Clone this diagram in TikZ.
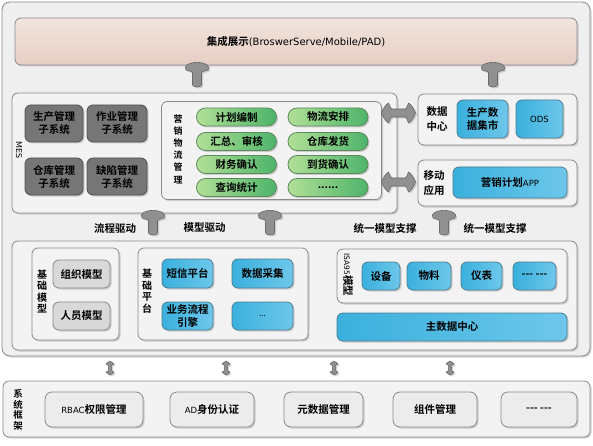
\documentclass[tikz,border=0pt]{standalone}
\usepackage{fontspec}
\setmainfont{Noto Sans CJK SC}[BoldFont={Noto Sans CJK SC Bold}]
\newfontfamily\lat{DejaVu Sans}
\usetikzlibrary{shadows}
\definecolor{outerfill}{HTML}{EFEFEF}
\definecolor{framefill}{HTML}{F3F3F3}
\definecolor{frameline}{HTML}{8A8A8A}
\definecolor{pinktop}{HTML}{F2E4DD}
\definecolor{pinkbot}{HTML}{E6CEC3}
\definecolor{darkfill}{HTML}{767676}
\definecolor{darkline}{HTML}{505050}
\definecolor{greenl}{HTML}{B2DF97}
\definecolor{greenr}{HTML}{4DB46A}
\definecolor{greenline}{HTML}{5C8A5C}
\definecolor{bluel}{HTML}{3AB0DD}
\definecolor{bluer}{HTML}{6EC7EA}
\definecolor{blueline}{HTML}{4C7D92}
\definecolor{grayfill}{HTML}{D9D9D9}
\definecolor{lightfill}{HTML}{ECECEC}
\definecolor{arrowfill}{HTML}{909090}
\definecolor{arrowline}{HTML}{6A6A6A}

\begin{document}
\begin{tikzpicture}[x=1pt,y=-1pt,
  every node/.style={font=\fontsize{10.5}{13}\selectfont\bfseries, inner sep=0pt, text=black},
  sz/.style 2 args={minimum width=#1pt, minimum height=#2pt},
  shade/.style={drop shadow={shadow xshift=1.5pt, shadow yshift=-1.5pt, fill=black!35, opacity=.5}},
  outer/.style={draw=frameline, fill=outerfill, rounded corners=8pt, line width=.8pt, shade},
  frame/.style={draw=frameline, fill=framefill, rounded corners=6pt, line width=.8pt, shade},
  pinkbox/.style={draw=frameline, top color=pinktop, bottom color=pinkbot, rounded corners=6pt, line width=.8pt, shade},
  darkbox/.style={draw=darkline, fill=darkfill, rounded corners=6pt, line width=.8pt, align=center, text=black, shade},
  pill/.style={draw=greenline, left color=greenl, right color=greenr, rounded corners=9pt, line width=.8pt, minimum width=80pt, minimum height=18pt, shade},
  bluebox/.style={draw=blueline, left color=bluel, right color=bluer, rounded corners=6pt, line width=.8pt, align=center, shade},
  graybox/.style={draw=frameline, fill=grayfill, rounded corners=6pt, line width=.8pt, shade},
  basebox/.style={draw=frameline, fill=lightfill, rounded corners=7pt, line width=.8pt, shade},
  vlabel/.style={align=center, font=\fontsize{10}{11.5}\selectfont\bfseries},
  label2/.style={align=center, font=\fontsize{10.5}{15}\selectfont\bfseries},
  arrowbody/.style={fill=arrowfill, draw=arrowline, line width=.6pt, shade},
  uparrow/.pic={
    \path[arrowbody] (-4.5,11) -- (-4.5,-1) .. controls (-4.5,-3) and (-9,-3) .. (-11,-4)
      .. controls (-12,-6) and (-12,-8) .. (-10,-9) .. controls (-5,-12.5) and (5,-12.5) .. (10,-9)
      .. controls (12,-8) and (12,-6) .. (11,-4) .. controls (9,-3) and (4.5,-3) .. (4.5,-1)
      -- (4.5,11) .. controls (4.5,13.5) and (-4.5,13.5) .. (-4.5,11) -- cycle;
  },
  dblarrow/.pic={
    \path[arrowbody] (-17,0) .. controls (-15,-5) and (-13,-8) .. (-10,-10)
      .. controls (-9,-7) and (-8,-5) .. (-7,-4) -- (7,-4) .. controls (8,-5) and (9,-7) .. (10,-10)
      .. controls (13,-8) and (15,-5) .. (17,0) .. controls (15,5) and (13,8) .. (10,10)
      .. controls (9,7) and (8,5) .. (7,4) -- (-7,4) .. controls (-8,5) and (-9,7) .. (-10,10)
      .. controls (-13,8) and (-15,5) .. (-17,0) -- cycle;
  }]
\useasboundingbox (0,0) rectangle (593,446);

\node[outer, sz={588}{354}] (sys) at (296,179) {};
\node[pinkbox, sz={562}{47}] (show) at (296,41.5) {集成展示{\lat\mdseries\fontsize{10}{12}\selectfont(BroswerServe/Mobile/PAD)}};

\node[frame, sz={385}{120}] (mes) at (204.5,153) {};
\node[rotate=-90, font=\lat\fontsize{8}{10}\selectfont] (meslbl) at (19,150) {MES};
\node[darkbox, sz={58}{37}] (scgl) at (54,123.5) {\color{black}生产管理\\\color{black}子系统};
\node[darkbox, sz={60}{37}] (zygl) at (117,123.5) {\color{black}作业管理\\\color{black}子系统};
\node[darkbox, sz={58}{37}] (ckgl) at (54,176.5) {\color{black}仓库管理\\\color{black}子系统};
\node[darkbox, sz={60}{37}] (qxgl) at (117,176.5) {\color{black}缺陷管理\\\color{black}子系统};

\node[frame, sz={220}{98}] (yxwl) at (271.5,150.5) {};
\node[align=center, font=\fontsize{9}{12.2}\selectfont\bfseries] (yxlbl) at (178,149) {营\\销\\物\\流\\管\\理};
\node[pill] (jhbz) at (236.5,117) {计划编制};
\node[pill] (hzsh) at (236.5,141.5) {汇总、审核};
\node[pill] (cwqr) at (236.5,164.5) {财务确认};
\node[pill] (cxtj) at (236.5,187.5) {查询统计};
\node[pill] (wlap) at (328,117) {物流安排};
\node[pill] (ckfh) at (328,141.5) {仓库发货};
\node[pill] (dhqr) at (328,164.5) {到货确认};
\node[pill] (more0) at (328,187.5) {......};

\node[frame, sz={159}{51}] (sjzx) at (497.5,119.5) {};
\node[label2] (sjlbl) at (437,119.5) {数据\\中心};
\node[bluebox, sz={51}{38}] (scsj) at (482.5,119) {生产数\\据集市};
\node[bluebox, sz={47}{38}] (ods) at (539.5,119) {\lat\mdseries\fontsize{8.5}{10}\selectfont ODS};
\node[frame, sz={159}{46}] (ydyy) at (497.5,183) {};
\node[label2] (ydlbl) at (434,183) {移动\\应用};
\node[bluebox, sz={114}{31}] (app) at (510,182.5) {营销计划{\lat\mdseries\fontsize{8.5}{10}\selectfont APP}};

\pic at (197,74) {uparrow};
\pic at (493,74) {uparrow};
\pic at (398.5,113) {dblarrow};
\pic at (398.5,182) {dblarrow};
\pic at (153,222) {uparrow};
\pic at (270,222) {uparrow};
\pic at (444,222) {uparrow};
\node (lcqd) at (115,228) {流程驱动};
\node (mxqd) at (204.5,228) {模型驱动};
\node (tymx) at (385,228) {统一模型支撑};
\node (tymx2) at (495,228) {统一模型支撑};

\node[frame, sz={565}{109}] (base) at (294.5,295.5) {};
\node[frame, sz={87}{92}] (jcmx) at (75.5,294) {};
\node[vlabel] (mxlbl) at (42,291.5) {基\\础\\模\\型};
\node[graybox, sz={57}{28}] (zzmx) at (81.5,274) {组织模型};
\node[graybox, sz={57}{28}] (rymx) at (81.5,316) {人员模型};
\node[frame, sz={170}{92}] (jcpt) at (223,294) {};
\node[vlabel] (ptlbl) at (147,291) {基\\础\\平\\台};
\node[bluebox, sz={51}{29}] (dxpt) at (187.5,273.5) {短信平台};
\node[bluebox, sz={61}{29}] (sjcj) at (262.5,273.5) {数据采集};
\node[bluebox, sz={51}{28}] (ywlc) at (187.5,316) {业务流程\\引擎};
\node[bluebox, sz={61}{28}] (more1) at (262.5,316) {\mdseries\fontsize{8}{10}\selectfont ...};
\node[frame, sz={230}{54}] (isa) at (452,276) {};
\node[rotate=-90] (isalbl) at (348,275) {{\lat\mdseries\fontsize{7.5}{9}\selectfont ISA95}模型};
\node[bluebox, sz={38}{28}] (sb) at (381,276) {设备};
\node[bluebox, sz={44}{28}] (wl) at (429,276) {物料};
\node[bluebox, sz={41}{28}] (yb) at (481.5,276) {仪表};
\node[bluebox, sz={43}{28}] (more2) at (534.5,276) {{-}{-}{-} {-}{-}{-}};
\node[bluebox, sz={230}{28}] (zsj) at (452,327) {主数据中心};

\pic[rotate=90, scale=.4] at (110,368) {dblarrow};
\pic[rotate=90, scale=.4] at (226,368) {dblarrow};
\pic[rotate=90, scale=.4] at (334,368) {dblarrow};
\pic[rotate=90, scale=.4] at (450,368) {dblarrow};

\node[frame, sz={587}{56}] (kj) at (296.5,409) {};
\node[vlabel, font=\fontsize{9.5}{10.5}\selectfont\bfseries] (kjlbl) at (18,410) {系\\统\\框\\架};
\node[basebox, sz={98}{35}] (rbac) at (94,409.5) {{\lat\mdseries\fontsize{8.5}{10}\selectfont RBAC}权限管理};
\node[basebox, sz={84}{35}] (ad) at (212,409.5) {{\lat\mdseries\fontsize{8.5}{10}\selectfont AD}身份认证};
\node[basebox, sz={79}{35}] (ysj) at (323.5,409.5) {元数据管理};
\node[basebox, sz={84}{35}] (zj) at (435,409.5) {组件管理};
\node[basebox, sz={76}{35}] (more3) at (539,409.5) {{-}{-}{-} {-}{-}{-}};
\end{tikzpicture}
\end{document}
